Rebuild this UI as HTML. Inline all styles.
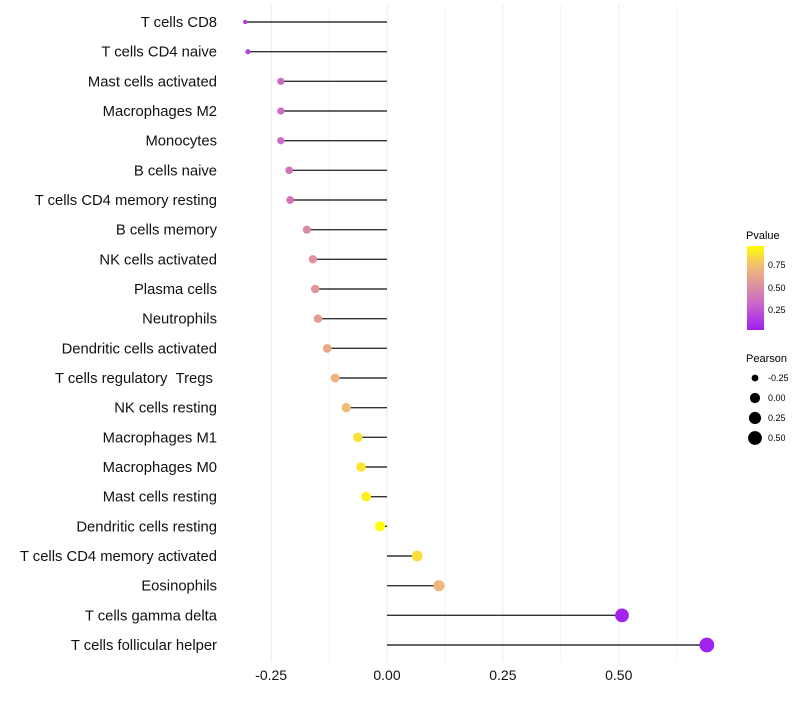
<!DOCTYPE html>
<html><head><meta charset="utf-8"><style>
body{margin:0;background:#fff;font-family:"Liberation Sans",sans-serif;}
</style></head><body>
<svg id="chart" width="800" height="700" xmlns="http://www.w3.org/2000/svg" font-family="Liberation Sans, sans-serif">
<defs><linearGradient id="pg" x1="0" y1="1" x2="0" y2="0">
<stop offset="0" stop-color="#a01ff0"/><stop offset="0.35" stop-color="#cf6fc4"/><stop offset="0.55" stop-color="#e0949a"/><stop offset="0.78" stop-color="#f3c070"/><stop offset="1" stop-color="#ffff00"/></linearGradient></defs>
<g id="grid"></g>
<g id="marks"></g>
<g id="labels"></g>
<g id="xticks"></g>
<g>
<text x="746" y="239" font-size="11" fill="#000">Pvalue</text>
<rect x="747" y="246" width="17" height="84" fill="url(#pg)"/>
<text x="768" y="268" font-size="9">0.75</text><text x="768" y="291" font-size="9">0.50</text><text x="768" y="313" font-size="9">0.25</text>
</g>
<g id="sizeleg">
<text x="746" y="362" font-size="11">Pearson</text>
</g>
</svg>
<script>
const categories=["T cells CD8","T cells CD4 naive","Mast cells activated","Macrophages M2","Monocytes","B cells naive","T cells CD4 memory resting","B cells memory","NK cells activated","Plasma cells","Neutrophils","Dendritic cells activated","T cells regulatory\u00a0\u00a0Tregs\u00a0","NK cells resting","Macrophages M1","Macrophages M0","Mast cells resting","Dendritic cells resting","T cells CD4 memory activated","Eosinophils","T cells gamma delta","T cells follicular helper"];
const pearson=[-0.306,-0.300,-0.229,-0.229,-0.229,-0.211,-0.209,-0.173,-0.160,-0.155,-0.149,-0.129,-0.112,-0.088,-0.063,-0.056,-0.045,-0.015,0.065,0.112,0.507,0.690];
const pvalue=[0.15,0.17,0.33,0.33,0.33,0.36,0.37,0.48,0.52,0.54,0.58,0.63,0.68,0.72,0.85,0.86,0.9,0.96,0.84,0.7,0.03,0.03];
const xTicks=[-0.25,0,0.25,0.5];
const xTickLabels=["-0.25","0.00","0.25","0.50"];
const legendVals=[-0.25,0,0.25,0.5];
const legendLabels=["-0.25","0.00","0.25","0.50"];
const NS="http://www.w3.org/2000/svg";
const xs=v=>387+v*463.5;
const ys=i=>22+i*29.667;
const rs=v=>2.2+5.2*Math.sqrt(Math.max(0,(v+0.306)/0.996));
const stops=[[0,[160,31,240]],[0.35,[207,111,196]],[0.55,[224,148,154]],[0.78,[243,192,112]],[1,[255,255,0]]];
function col(p){let t=(p-0.017)/(0.95-0.017);t=Math.max(0,Math.min(1,t));for(let k=1;k<stops.length;k++){if(t<=stops[k][0]){const a=stops[k-1],b=stops[k],f=(t-a[0])/(b[0]-a[0]);return 'rgb('+a[1].map((c,j)=>Math.round(c+(b[1][j]-c)*f)).join(',')+')';}}return 'rgb(255,255,0)';}
function mk(tag,attrs,parent){const e=document.createElementNS(NS,tag);for(const k in attrs)e.setAttribute(k,attrs[k]);parent.appendChild(e);return e;}
const grid=document.getElementById('grid');
for(let v=-0.25;v<=0.63;v+=0.125){const l=mk('line',{x1:xs(v),x2:xs(v),y1:5,y2:662,stroke:'#ebebeb','stroke-width':v%0.25===0?1:0.6},grid);

}
const marks=document.getElementById('marks'),labs=document.getElementById('labels');
categories.forEach((c,i)=>{const y=ys(i);
const s=mk('line',{x1:xs(0),x2:xs(pearson[i]),y1:y,y2:y,stroke:'#333','stroke-width':1.4},marks);


const p=mk('circle',{cx:xs(pearson[i]),cy:y,r:rs(pearson[i]),fill:col(pvalue[i])},marks);


const t=mk('text',{x:217,y:y+5,'text-anchor':'end','font-size':14.8,fill:'#111'},labs);t.textContent=c;

});
const xt=document.getElementById('xticks');
xTicks.forEach((v,i)=>{const t=mk('text',{x:xs(v),y:680,'text-anchor':'middle','font-size':14,fill:'#111'},xt);t.textContent=xTickLabels[i];

});
const sl=document.getElementById('sizeleg');
legendVals.forEach((v,i)=>{const y=378+i*20;
const c=mk('circle',{cx:755,cy:y,r:rs(v),fill:'#000'},sl);


const t=mk('text',{x:768,y:y+3,'font-size':9},sl);t.textContent=legendLabels[i];

});
</script>
</body></html>
